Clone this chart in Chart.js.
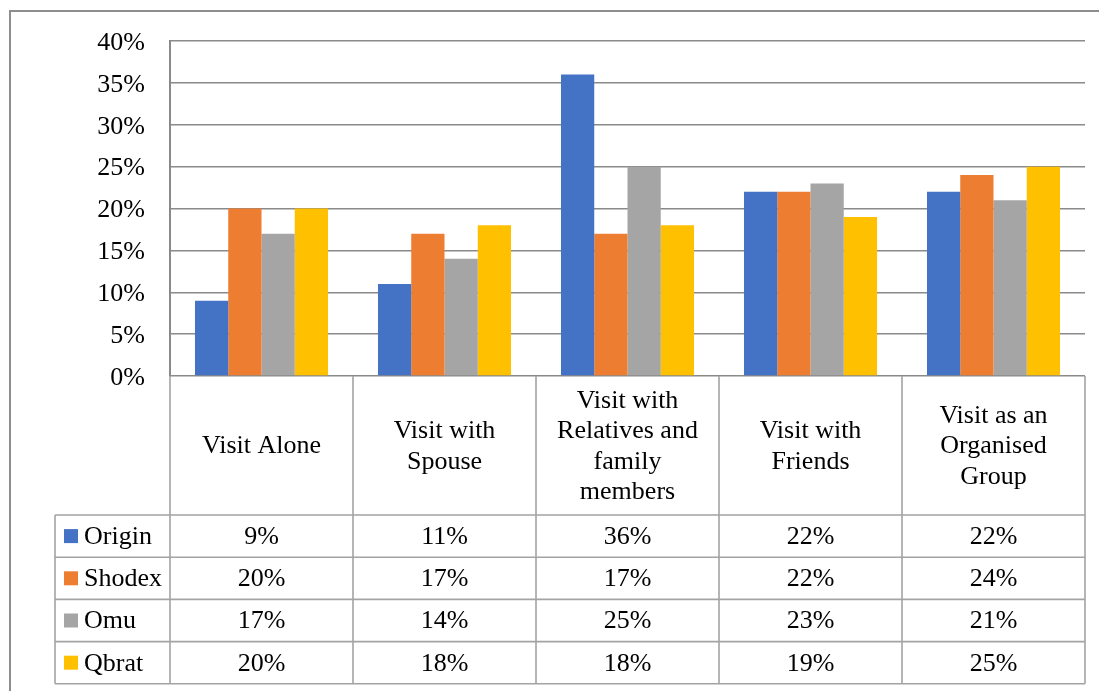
<!DOCTYPE html>
<html>
  <head>
    <meta charset="utf-8">
    <script src="https://cdn.jsdelivr.net/npm/chart.js@4.4.0/dist/chart.umd.min.js"></script>
    <style>
      html, body { margin: 0; padding: 0; background: #fff; overflow: hidden; }
      #frame { position: absolute; left: 9px; top: 10px; width: 1200px; height: 800px; border: 2px solid #8e8e8e; }
      #wrap { position: absolute; left: 0; top: 0; width: 1099px; height: 691px; }
    </style>
  </head>
  <body>
    <div id="frame"></div>
    <div id="wrap"><canvas id="myChart"></canvas></div>
    <script>
      // chart values (percent)
      var categories = [
        ['Visit Alone'],
        ['Visit with', 'Spouse'],
        ['Visit with', 'Relatives and', 'family', 'members'],
        ['Visit with', 'Friends'],
        ['Visit as an', 'Organised', 'Group']
      ];
      var seriesNames = ['Origin', 'Shodex', 'Omu', 'Qbrat'];
      var origin = [9, 11, 36, 22, 22];
      var shodex = [20, 17, 17, 22, 24];
      var omu = [17, 14, 25, 23, 21];
      var qbrat = [20, 18, 18, 19, 25];
      var yTicks = [0, 5, 10, 15, 20, 25, 30, 35, 40];

      var colors = ['#4472C4', '#ED7D31', '#A5A5A5', '#FFC000'];
      var FONT = "'Liberation Serif', 'Times New Roman', serif";

      // draws the Excel style data table under the plot
      var dataTable = {
        id: 'dataTable',
        afterDraw: function (chart) {
          var ctx = chart.ctx;
          var area = chart.chartArea;
          var xs = chart.scales.x;
          var n = categories.length;
          var colW = (area.right - area.left) / n;
          var top = area.bottom;
          var headH = 139;
          var rowH = 42.2;
          var legLeft = 55;
          var rowsTop = top + headH;
          var bottom = rowsTop + rowH * seriesNames.length;
          var rows = [origin, shodex, omu, qbrat];

          ctx.save();
          ctx.strokeStyle = '#a3a3a3';
          ctx.lineWidth = 1.6;
          ctx.beginPath();
          // verticals
          for (var i = 0; i <= n; i++) {
            var x = area.left + i * colW;
            ctx.moveTo(x, top);
            ctx.lineTo(x, bottom);
          }
          ctx.moveTo(legLeft, rowsTop);
          ctx.lineTo(legLeft, bottom);
          // horizontals
          for (var r = 0; r <= seriesNames.length; r++) {
            var y = rowsTop + r * rowH;
            ctx.moveTo(legLeft, y);
            ctx.lineTo(area.right, y);
          }
          ctx.stroke();

          ctx.fillStyle = '#000';
          ctx.font = '26px ' + FONT;
          ctx.textAlign = 'center';
          ctx.textBaseline = 'middle';
          var lineH = 30.5;
          for (var c = 0; c < n; c++) {
            var cx = xs.getPixelForValue(c);
            var lines = categories[c];
            var y0 = top + headH / 2 - (lines.length - 1) * lineH / 2;
            for (var l = 0; l < lines.length; l++) {
              ctx.fillText(lines[l], cx, y0 + l * lineH + 1);
            }
            for (var s = 0; s < rows.length; s++) {
              ctx.fillText(rows[s][c] + '%', cx, rowsTop + s * rowH + rowH / 2 + 1);
            }
          }

          ctx.textAlign = 'left';
          for (var k = 0; k < seriesNames.length; k++) {
            var cy = rowsTop + k * rowH + rowH / 2;
            ctx.fillStyle = colors[k];
            ctx.fillRect(64, cy - 7, 14, 14);
            ctx.fillStyle = '#000';
            ctx.fillText(seriesNames[k], 84, cy + 1);
          }
          ctx.restore();
        }
      };

      var data = {
        labels: categories,
        datasets: [
          { label: seriesNames[0], data: origin, backgroundColor: colors[0] },
          { label: seriesNames[1], data: shodex, backgroundColor: colors[1] },
          { label: seriesNames[2], data: omu, backgroundColor: colors[2] },
          { label: seriesNames[3], data: qbrat, backgroundColor: colors[3] }
        ]
      };

      var config = {
        type: 'bar',
        data: data,
        options: {
          responsive: true,
          maintainAspectRatio: false,
          animation: false,
          layout: { padding: { left: 10, right: 14, top: 41, bottom: 0 } },
          datasets: {
            bar: { categoryPercentage: 0.727, barPercentage: 1.0, borderWidth: 0 }
          },
          plugins: {
            legend: { display: false },
            tooltip: { enabled: false }
          },
          scales: {
            x: {
              ticks: { display: false },
              grid: { display: false, drawTicks: false },
              border: { display: false },
              afterFit: function (scale) { scale.height = 315; }
            },
            y: {
              min: 0,
              max: 40,
              afterBuildTicks: function (scale) {
                scale.ticks = yTicks.map(function (v) { return { value: v }; });
              },
              afterFit: function (scale) { scale.width = 160; },
              ticks: {
                padding: 25,
                labelOffset: 2,
                color: '#000',
                font: { family: FONT, size: 26 },
                callback: function (v) { return v + '%'; }
              },
              grid: { color: '#8a8a8a', lineWidth: 1.5, drawTicks: false },
              border: { display: true, color: '#8a8a8a', width: 2 }
            }
          }
        },
        plugins: [dataTable]
      };

      var myChart = new Chart(document.getElementById('myChart'), config);
    </script>
  </body>
</html>
